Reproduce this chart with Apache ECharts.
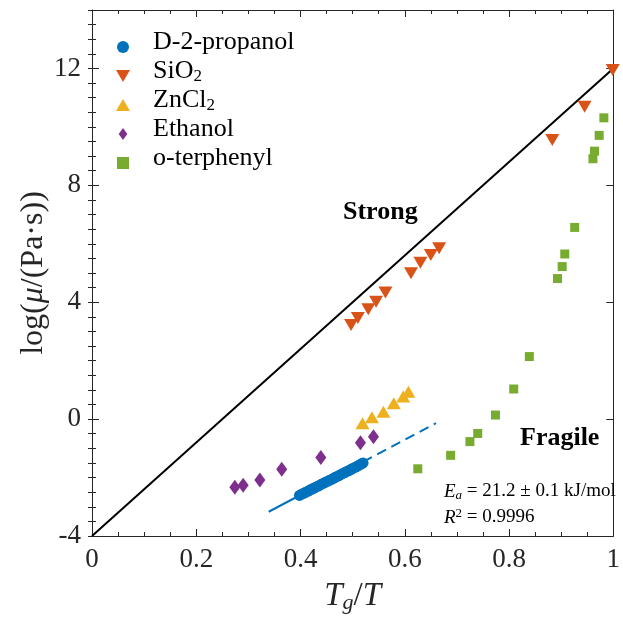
<!DOCTYPE html>
<html>
<head>
<meta charset="utf-8">
<script src="https://cdn.jsdelivr.net/npm/echarts@6/dist/echarts.min.js"></script>
<style>
  html, body { margin: 0; padding: 0; background: #fff; }
  #chart { width: 623px; height: 619px; }
</style>
</head>
<body>
<div id="chart"></div>
<script>
// values (x = Tg/T, y = log viscosity)
const propanolX = [0.398, 0.402, 0.406, 0.410, 0.414, 0.418, 0.421, 0.425, 0.429, 0.433, 0.437, 0.441, 0.445, 0.449, 0.453, 0.457,
  0.461, 0.465, 0.469, 0.473, 0.477, 0.481, 0.485, 0.489, 0.493, 0.497, 0.501, 0.505, 0.509, 0.513, 0.517, 0.520];
const propanolY = [-2.61, -2.57, -2.54, -2.50, -2.47, -2.43, -2.40, -2.37, -2.33, -2.30, -2.26, -2.22, -2.19, -2.15, -2.12, -2.08,
  -2.05, -2.01, -1.97, -1.94, -1.90, -1.86, -1.83, -1.79, -1.76, -1.72, -1.68, -1.65, -1.61, -1.57, -1.53, -1.50];

const sio2X = [0.497, 0.510, 0.530, 0.545, 0.563, 0.612, 0.630, 0.650, 0.666, 0.883, 0.945, 0.999];
const sio2Y = [3.22, 3.46, 3.76, 4.02, 4.33, 4.99, 5.35, 5.62, 5.85, 9.55, 10.69, 11.95];

const zncl2X = [0.519, 0.537, 0.559, 0.579, 0.597, 0.607];
const zncl2Y = [-0.14, 0.06, 0.25, 0.54, 0.77, 0.94];

const ethanolX = [0.274, 0.290, 0.322, 0.364, 0.439, 0.515, 0.540];
const ethanolY = [-2.33, -2.26, -2.08, -1.72, -1.31, -0.81, -0.60];

const otpX = [0.625, 0.688, 0.725, 0.740, 0.774, 0.809, 0.839, 0.893, 0.902, 0.907, 0.926, 0.961, 0.964, 0.973, 0.982];
const otpY = [-1.70, -1.24, -0.77, -0.49, 0.14, 1.03, 2.14, 4.81, 5.22, 5.65, 6.56, 8.91, 9.17, 9.71, 10.31];

// Arrhenius fit for D-2-propanol: solid over the data, dashed beyond
const fitSolid = [[0.339, -3.17], [0.520, -1.46]];
const fitDashed = [[0.520, -1.46], [0.660, -0.14]];

// strong limit
const strongLine = [[0, -4], [1, 12]];

const legendNames = ['D-2-propanol', 'SiO2', 'ZnCl2', 'Ethanol', 'o-terphenyl'];
const legendLabels = ['{b|D-2-propanol}', '{b|SiO}{s|2}', '{b|ZnCl}{s|2}', '{b|Ethanol}', '{b|o-terphenyl}'];

const yTicks = { min: -4, max: 14, major: 4, minor: 0.5 };
const xTicks = { min: 0, max: 1, major: 0.2 };

const zip = (xs, ys) => xs.map((x, i) => [x, ys[i]]);

const serif = "'Liberation Serif', 'Times New Roman', serif";
const ink = '#262626';

const chart = echarts.init(document.getElementById('chart'));

const boxAxisLine = { show: true, onZero: false, lineStyle: { color: ink, width: 1 } };

const legendIcons = {
  'D-2-propanol': 'circle',
  'SiO2': 'path://M0,0L14,0L7,12Z',
  'ZnCl2': 'path://M7,0L14,12L0,12Z',
  'Ethanol': 'path://M5,0L10,7L5,14L0,7Z',
  'o-terphenyl': 'path://M0,0L9,0L9,9L0,9Z'
};

// legend text drawn as graphic text next to the legend icons (row pitch 29px)
const legendText = legendLabels.map((label, i) => ({
  type: 'text', x: 153, y: 42 + i * 29, z: 10, silent: true,
  style: {
    text: label, verticalAlign: 'middle', align: 'left',
    rich: {
      b: { fontFamily: serif, fontSize: 26, fill: '#000' },
      s: { fontFamily: serif, fontSize: 17, fill: '#000', verticalAlign: 'bottom', padding: [11, 0, 0, 0] }
    }
  }
}));

const option = {
  animation: false,
  grid: { left: 92, right: 6, top: 10, bottom: 83, containLabel: false },
  legend: {
    orient: 'vertical',
    left: 111,
    top: 36,
    itemGap: 17,
    itemWidth: 14,
    itemHeight: 12,
    formatter: () => '',
    data: legendNames.map(name => ({ name, icon: legendIcons[name] }))
  },
  xAxis: [
    {
      type: 'value', min: xTicks.min, max: xTicks.max, interval: xTicks.major,
      position: 'bottom',
      axisLine: boxAxisLine,
      axisTick: { inside: true, length: 7, lineStyle: { color: ink } },
      minorTick: { show: true, splitNumber: 4, length: 4, lineStyle: { color: ink } },
      splitLine: { show: false },
      axisLabel: { fontFamily: serif, fontSize: 27, color: ink, margin: 10 },
      name: '{i|T}{s|g}{n|/}{i|T}',
      nameLocation: 'middle',
      nameGap: 42,
      nameTextStyle: {
        rich: {
          i: { fontFamily: serif, fontStyle: 'italic', fontSize: 33, color: ink },
          n: { fontFamily: serif, fontSize: 33, color: ink },
          s: { fontFamily: serif, fontStyle: 'italic', fontSize: 22, color: ink, verticalAlign: 'bottom', padding: [14, 0, 0, 0] }
        }
      }
    },
    {
      type: 'value', min: xTicks.min, max: xTicks.max, interval: xTicks.major,
      position: 'top',
      axisLine: boxAxisLine,
      axisTick: { inside: true, length: 7, lineStyle: { color: ink } },
      minorTick: { show: true, splitNumber: 4, length: 4, lineStyle: { color: ink } },
      splitLine: { show: false },
      axisLabel: { show: false }
    }
  ],
  yAxis: [
    {
      type: 'value', min: yTicks.min, max: yTicks.max, interval: yTicks.major,
      position: 'left',
      axisLine: boxAxisLine,
      axisTick: { inside: true, length: 7, lineStyle: { color: ink } },
      splitLine: { show: false },
      axisLabel: { fontFamily: serif, fontSize: 27, color: ink, margin: 11, showMaxLabel: false },
      name: '{n|log(}{i|μ}{n|/(Pa·s))}',
      nameLocation: 'middle',
      nameRotate: 90,
      nameGap: 42,
      nameMoveOverlap: false,
      nameTextStyle: {
        rich: {
          i: { fontFamily: serif, fontStyle: 'italic', fontSize: 32, color: ink },
          n: { fontFamily: serif, fontSize: 32, color: ink }
        }
      }
    },
    {
      // minor ticks on the left
      type: 'value', min: yTicks.min, max: yTicks.max, interval: yTicks.minor,
      position: 'left',
      axisLine: { show: false },
      axisTick: { inside: true, length: 4, lineStyle: { color: ink } },
      splitLine: { show: false },
      axisLabel: { show: false }
    },
    {
      type: 'value', min: yTicks.min, max: yTicks.max, interval: yTicks.major,
      position: 'right',
      axisLine: boxAxisLine,
      axisTick: { inside: true, length: 7, lineStyle: { color: ink } },
      splitLine: { show: false },
      axisLabel: { show: false }
    },
    {
      // minor ticks on the right
      type: 'value', min: yTicks.min, max: yTicks.max, interval: yTicks.minor,
      position: 'right',
      axisLine: { show: false },
      axisTick: { inside: true, length: 4, lineStyle: { color: ink } },
      splitLine: { show: false },
      axisLabel: { show: false }
    }
  ],
  series: [
    {
      name: 'strong', type: 'line', data: strongLine, showSymbol: false, silent: true,
      lineStyle: { color: '#000', width: 2 }, z: 1
    },
    {
      name: 'fit', type: 'line', data: fitSolid, showSymbol: false, silent: true,
      lineStyle: { color: '#0072BD', width: 2 }, z: 1
    },
    {
      name: 'fit2', type: 'line', data: fitDashed, showSymbol: false, silent: true,
      lineStyle: { color: '#0072BD', width: 2, type: [10, 6] }, z: 1
    },
    {
      name: 'D-2-propanol', type: 'scatter', data: zip(propanolX, propanolY),
      symbol: 'circle', symbolSize: 11, itemStyle: { color: '#0072BD', opacity: 1 }, z: 3
    },
    {
      name: 'SiO2', type: 'scatter', data: zip(sio2X, sio2Y),
      symbol: 'triangle', symbolRotate: 180, symbolSize: [14, 12], itemStyle: { color: '#D95319', opacity: 1 }, z: 3
    },
    {
      name: 'ZnCl2', type: 'scatter', data: zip(zncl2X, zncl2Y),
      symbol: 'triangle', symbolSize: [14, 12], itemStyle: { color: '#EDB120', opacity: 1 }, z: 3
    },
    {
      name: 'Ethanol', type: 'scatter', data: zip(ethanolX, ethanolY),
      symbol: 'diamond', symbolSize: [11, 15], itemStyle: { color: '#7E2F8E', opacity: 1 }, z: 3
    },
    {
      name: 'o-terphenyl', type: 'scatter', data: zip(otpX, otpY),
      symbol: 'rect', symbolSize: 9, itemStyle: { color: '#77AC30', opacity: 1 }, z: 3
    }
  ],
  graphic: legendText.concat([
    {
      type: 'text', left: 343, top: 199, z: 10,
      style: { text: 'Strong', fontFamily: serif, fontWeight: 'bold', fontSize: 26, fill: '#000' }
    },
    {
      type: 'text', left: 520, top: 425, z: 10,
      style: { text: 'Fragile', fontFamily: serif, fontWeight: 'bold', fontSize: 26, fill: '#000' }
    },
    {
      type: 'text', left: 444, top: 482, z: 10,
      style: {
        text: '{i|E}{s|a}{n| = 21.2 ± 0.1 kJ/mol}',
        rich: {
          i: { fontFamily: serif, fontStyle: 'italic', fontSize: 19, fill: '#000' },
          n: { fontFamily: serif, fontSize: 19, fill: '#000' },
          s: { fontFamily: serif, fontStyle: 'italic', fontSize: 13, fill: '#000', verticalAlign: 'bottom', padding: [8, 0, 0, 0] }
        }
      }
    },
    {
      type: 'text', left: 444, top: 507, z: 10,
      style: {
        text: '{i|R}{p|2}{n| = 0.9996}',
        rich: {
          i: { fontFamily: serif, fontStyle: 'italic', fontSize: 19, fill: '#000' },
          n: { fontFamily: serif, fontSize: 19, fill: '#000' },
          p: { fontFamily: serif, fontSize: 13, fill: '#000', verticalAlign: 'top', padding: [0, 0, 8, 0] }
        }
      }
    }
  ])
};

chart.setOption(option);
</script>
</body>
</html>
